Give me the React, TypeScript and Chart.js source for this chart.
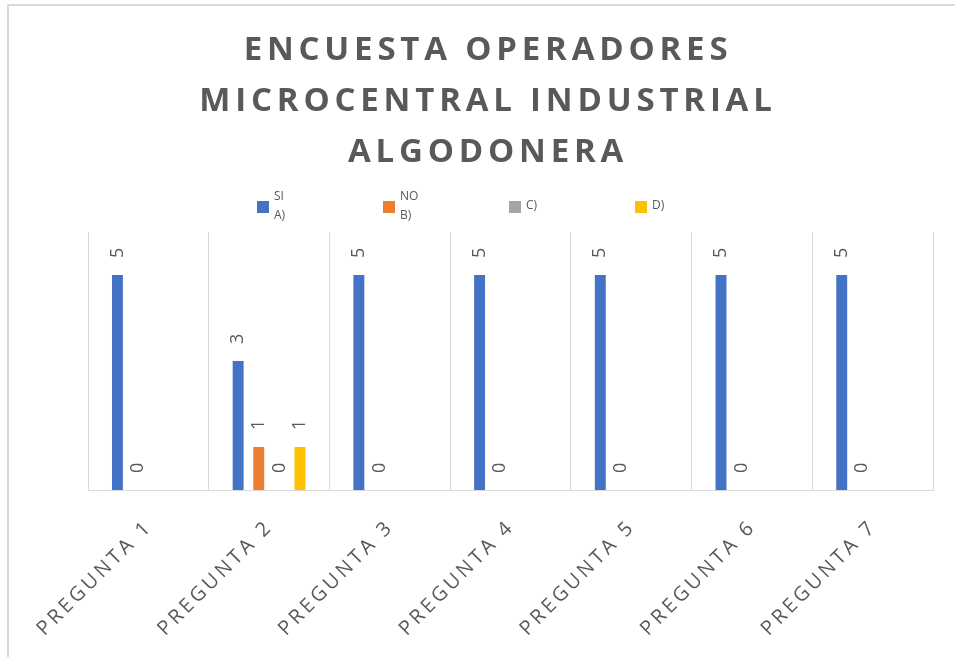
import { useEffect, useRef } from "react";
import { Chart, registerables } from "chart.js";

Chart.register(...registerables);

const TITLE_LINES = ["ENCUESTA OPERADORES", "MICROCENTRAL INDUSTRIAL", "ALGODONERA"];
const CATEGORIES = [
  "PREGUNTA 1",
  "PREGUNTA 2",
  "PREGUNTA 3",
  "PREGUNTA 4",
  "PREGUNTA 5",
  "PREGUNTA 6",
  "PREGUNTA 7",
];
const SERIES_A = [5, 3, 5, 5, 5, 5, 5];
const SERIES_B = [0, 1, 0, 0, 0, 0, 0];
const SERIES_C = [null, 0, null, null, null, null, null];
const SERIES_D = [null, 1, null, null, null, null, null];
const SERIES_LABELS = ["SI A)", "NO B)", "C)", "D)"];
const LEGEND_LINES = [["SI", "A)"], ["NO", "B)"], ["C)"], ["D)"]];
const COLORS = ["#4472C4", "#ED7D31", "#A5A5A5", "#FFC000"];
const Y_MIN = 0;
const Y_MAX = 6;

const TEXT_COLOR = "#595959";
const GRID_COLOR = "#d9d9d9";

const spacingPlugin = {
  id: "spacing",
  beforeDraw(chart: any) {
    chart.ctx.letterSpacing = "3.4px";
  },
};

const titlePlugin = {
  id: "customTitle",
  afterDraw(chart: any) {
    const ctx = chart.ctx;
    ctx.save();
    ctx.letterSpacing = "4.8px";
    ctx.font = 'bold 33px "Open Sans"';
    ctx.fillStyle = TEXT_COLOR;
    ctx.textAlign = "center";
    ctx.textBaseline = "alphabetic";
    const ys = [60, 111, 162];
    TITLE_LINES.forEach((t, i) => ctx.fillText(t, 488, ys[i]));
    ctx.restore();
  },
};

const legendPlugin = {
  id: "customLegend",
  afterDraw(chart: any) {
    const ctx = chart.ctx;
    ctx.save();
    ctx.letterSpacing = "0px";
    ctx.font = '12px "Open Sans"';
    ctx.textAlign = "left";
    ctx.textBaseline = "middle";
    LEGEND_LINES.forEach((lines, i) => {
      const bx = 257 + i * 126;
      ctx.fillStyle = chart.data.datasets[i].backgroundColor;
      ctx.fillRect(bx, 201, 12, 12);
      ctx.fillStyle = TEXT_COLOR;
      if (lines.length === 2) {
        ctx.fillText(lines[0], bx + 17, 197);
        ctx.fillText(lines[1], bx + 17, 216);
      } else {
        ctx.fillText(lines[0], bx + 17, 206);
      }
    });
    ctx.restore();
  },
};

const dataLabelPlugin = {
  id: "dataLabels",
  afterDatasetsDraw(chart: any) {
    const ctx = chart.ctx;
    ctx.save();
    ctx.letterSpacing = "0px";
    ctx.font = '18px "Open Sans"';
    ctx.fillStyle = TEXT_COLOR;
    ctx.textAlign = "left";
    ctx.textBaseline = "middle";
    chart.data.datasets.forEach((ds: any, i: number) => {
      const meta = chart.getDatasetMeta(i);
      meta.data.forEach((el: any, j: number) => {
        const v = ds.data[j];
        if (v === null || v === undefined) return;
        ctx.save();
        ctx.translate(el.x, el.y - 17);
        ctx.rotate(-Math.PI / 2);
        ctx.fillText(String(v), 0, 0);
        ctx.restore();
      });
    });
    ctx.restore();
  },
};

export default function App() {
  const ref = useRef<HTMLCanvasElement>(null);
  useEffect(() => {
    if (!ref.current) return;
    const series = [SERIES_A, SERIES_B, SERIES_C, SERIES_D];
    const chart = new Chart(ref.current, {
      type: "bar",
      data: {
        labels: CATEGORIES,
        datasets: series.map((d, i) => ({
          label: SERIES_LABELS[i],
          data: d,
          backgroundColor: COLORS[i],
          borderWidth: 0,
          categoryPercentage: 0.683,
          barPercentage: 0.53,
        })),
      },
      options: {
        animation: false,
        responsive: false,
        maintainAspectRatio: false,
        layout: { padding: { left: 88, right: 22, top: 232, bottom: 0 } },
        plugins: {
          legend: { display: false },
          title: { display: false },
          tooltip: { enabled: false },
        },
        scales: {
          x: {
            offset: true,
            grid: { display: true, color: GRID_COLOR, offset: true, drawTicks: false, lineWidth: 1 },
            border: { display: true, color: GRID_COLOR, width: 1 },
            ticks: {
              autoSkip: false,
              minRotation: 45,
              maxRotation: 45,
              padding: 25,
              labelOffset: 1,
              color: TEXT_COLOR,
              font: { family: "Open Sans", size: 20 },
            },
            afterFit(scale: any) {
              scale.height = 167;
            },
          },
          y: {
            display: false,
            min: Y_MIN,
            max: Y_MAX,
            grid: { display: false },
          },
        },
      },
      plugins: [spacingPlugin, titlePlugin, legendPlugin, dataLabelPlugin],
    });
    return () => chart.destroy();
  }, []);

  return (
    <div
      style={{
        position: "fixed",
        left: 0,
        top: 0,
        width: 955,
        height: 657,
        background: "#fff",
        overflow: "hidden",
      }}
    >
      <div
        style={{
          position: "absolute",
          left: 7,
          top: 4,
          width: 1000,
          height: 700,
          borderTop: "2px solid #d9d9d9",
          borderLeft: "2px solid #d9d9d9",
        }}
      />
      <canvas
        ref={ref}
        width={955}
        height={657}
        style={{ position: "absolute", left: 0, top: 0, width: 955, height: 657 }}
      />
    </div>
  );
}
